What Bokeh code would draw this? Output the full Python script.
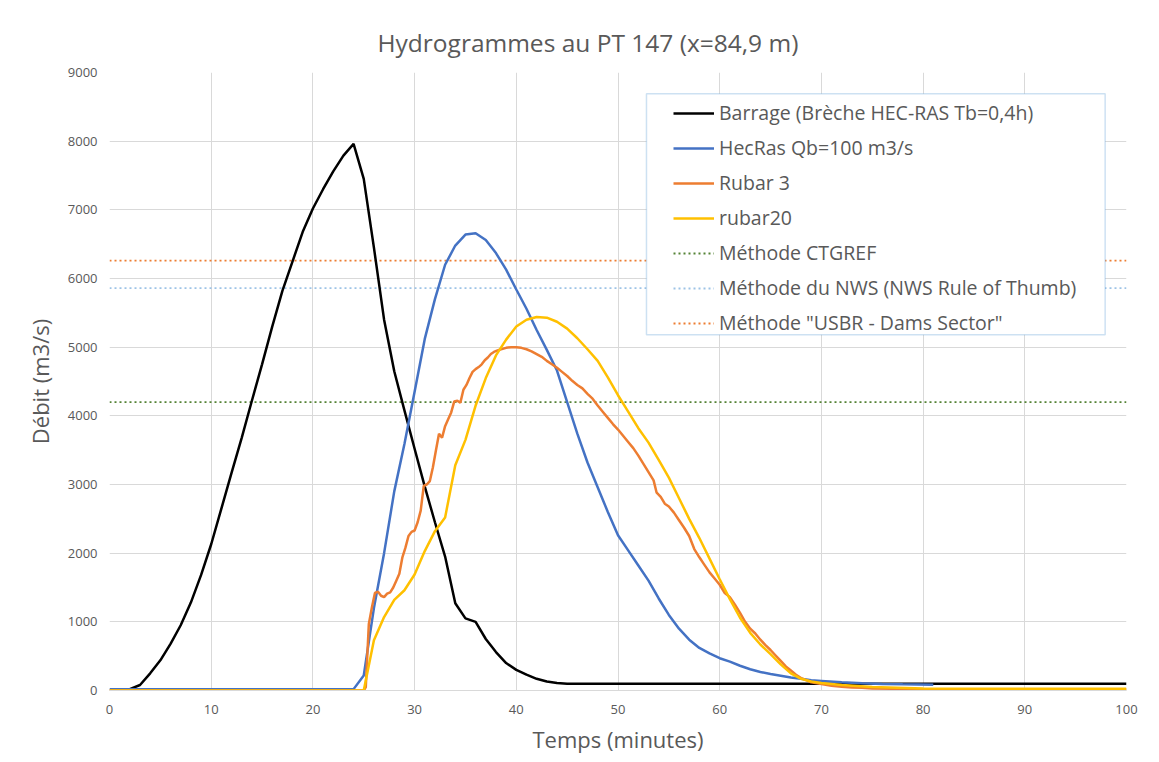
from bokeh.plotting import figure
from bokeh.models import (FixedTicker, Legend, LegendItem, BoxAnnotation, Range1d)
from bokeh.embed import file_html
from bokeh.resources import INLINE

# ---------------- data ----------------
barrage_t = list(range(1, 46)) + [50, 60, 70, 80, 90, 100]
barrage_q = [0, 20, 80, 250, 440, 680, 950, 1280, 1680, 2130,
             2650, 3170, 3680, 4220, 4750, 5300, 5820, 6250, 6680, 7020,
             7300, 7560, 7790, 7960, 7450, 6450, 5400, 4650, 4080, 3520,
             2970, 2450, 1950, 1270, 1050, 1000, 750, 560, 400, 300,
             230, 170, 130, 110, 100, 100, 100, 100, 100, 100, 100]

hecras_t = list(range(0, 71)) + [72, 74, 76, 78, 81]
hecras_q = [20] * 25 + [220, 1200, 2000, 2900, 3590, 4350, 5120, 5700, 6200, 6480,
                        6640, 6660, 6560, 6370, 6130, 5840, 5560, 5250, 4960, 4660,
                        4200, 3740, 3320, 2960, 2600, 2260, 2040, 1820, 1600, 1340,
                        1100, 900, 740, 620, 540, 470, 420, 360, 310, 270,
                        240, 215, 190, 170, 150, 140, 120, 105, 95, 90, 85]

rubar3_t = [0, 5, 10, 15, 20, 25, 25.2, 25.5, 25.8, 26.1, 26.4, 26.7, 27.0, 27.3, 27.6, 27.9,
            28.2, 28.5, 28.8, 29.1, 29.4, 29.7, 30.0, 30.3, 30.6, 30.9, 31.2, 31.5, 31.8,
            32.1, 32.4, 32.7, 33.0, 33.3, 33.6, 33.9, 34.2, 34.5, 34.8, 35.1, 35.4, 35.7,
            36.0, 36.3, 36.6, 36.9, 37.2, 37.5, 37.8, 38.1, 38.5, 39.0, 39.5, 40.0, 40.5,
            41.0, 41.5, 42.0, 42.5, 43.0, 43.5, 44.0, 44.5, 45.0, 45.5, 46.0, 46.5, 47.0,
            47.5, 48.0, 48.5, 49.0, 49.5, 50.0, 50.5, 51.0, 51.5, 52.0, 52.5, 53.0, 53.5,
            53.8, 54.2, 54.6, 55.0, 55.5, 56.0, 56.5, 57.0, 57.5, 58.0, 58.5, 59.0, 59.5,
            60.0, 60.5, 61.0, 61.5, 62.0, 62.5, 63.0, 63.5, 64.0, 64.5, 65.0, 65.5, 66.0,
            66.5, 67.0, 67.5, 68.0, 68.5, 69, 70, 71, 72, 73, 74, 75, 77, 80, 85, 90, 100]
rubar3_q = [0, 0, 0, 0, 0, 0, 50, 970, 1210, 1420, 1440, 1380, 1360, 1410, 1430, 1500,
            1600, 1700, 1940, 2080, 2250, 2310, 2330, 2450, 2620, 2980, 3000, 3050, 3250,
            3500, 3740, 3680, 3850, 3950, 4050, 4210, 4220, 4190, 4380, 4450, 4550, 4640,
            4680, 4710, 4750, 4810, 4850, 4900, 4930, 4950, 4970, 4990, 5000, 5000, 4990,
            4970, 4940, 4900, 4860, 4800, 4750, 4700, 4640, 4580, 4510, 4450, 4400, 4320,
            4250, 4150, 4060, 3970, 3880, 3800, 3710, 3620, 3530, 3420, 3300, 3180, 3060,
            2880, 2820, 2720, 2680, 2590, 2480, 2370, 2250, 2060, 1940, 1830, 1720, 1630,
            1540, 1420, 1360, 1250, 1130, 1000, 900, 830, 740, 660, 590, 510, 430,
            350, 290, 230, 180, 150, 120, 95, 70, 55, 45, 40, 30, 25, 20, 15, 15, 15]

rubar20_t = list(range(0, 71)) + [72, 75, 80, 90, 100]
rubar20_q = [0] * 26 + [730, 1070, 1320, 1460, 1690, 2030, 2320, 2520, 3280, 3650,
                        4150, 4550, 4880, 5110, 5300, 5400, 5440, 5430, 5370, 5270,
                        5130, 4970, 4800, 4560, 4300, 4060, 3820, 3610, 3360, 3100,
                        2800, 2500, 2220, 1920, 1620, 1330, 1060, 840, 670, 530,
                        380, 250, 170, 130, 110, 80, 50, 30, 25, 25]

ref_t = [0, 100]
ctgref_q = 4200
nws_q = 5860
usbr_q = 6260

labels = ["Barrage (Brèche HEC-RAS Tb=0,4h)", "HecRas Qb=100 m3/s", "Rubar 3", "rubar20",
          "Méthode CTGREF", "Méthode du NWS (NWS Rule of Thumb)", "Méthode \"USBR - Dams Sector\""]
x_ticks = list(range(0, 101, 10))
y_ticks = list(range(0, 9001, 1000))

# ---------------- figure ----------------
FONT = "Open Sans"
GREY = "#595959"

p = figure(width=1159, height=762, output_backend="svg", toolbar_location=None,
           x_range=Range1d(0, 100), y_range=Range1d(0, 9000),
           min_border_left=109, min_border_right=33, min_border_top=72, min_border_bottom=72,
           title="Hydrogrammes au PT 147 (x=84,9 m)")
p.title.align = "left"
p.title.offset = 268
p.title.text_font = FONT
p.title.text_font_size = "24.5px"
p.title.text_font_style = "normal"
p.title.text_color = GREY
p.title.standoff = 27
p.outline_line_color = None

p.xaxis.ticker = FixedTicker(ticks=x_ticks)
p.yaxis.ticker = FixedTicker(ticks=y_ticks)
for ax in (p.xaxis[0], p.yaxis[0]):
    ax.major_tick_line_color = None
    ax.minor_tick_line_color = None
    ax.major_label_text_font = FONT
    ax.major_label_text_font_size = "13px"
    ax.major_label_text_color = GREY
    ax.axis_label_text_font = FONT
    ax.axis_label_text_font_size = "22px"
    ax.axis_label_text_font_style = "normal"
    ax.axis_label_text_color = GREY
p.xaxis.axis_line_color = "#D9D9D9"
p.yaxis.axis_line_color = None
p.xaxis.axis_label = "Temps (minutes)"
p.yaxis.axis_label = "Débit (m3/s)"
p.xaxis.major_label_standoff = 8
p.xaxis.axis_label_standoff = 7
p.yaxis.major_label_standoff = 6
p.yaxis.axis_label_standoff = 10

p.xgrid.grid_line_color = "#D9D9D9"
p.ygrid.grid_line_color = "#D9D9D9"
p.xgrid.ticker = FixedTicker(ticks=x_ticks)
p.ygrid.ticker = FixedTicker(ticks=y_ticks)

LW = 2.5
r_ct = p.line(ref_t, [ctgref_q] * 2, line_color="#548235", line_width=1.8, line_dash="2 3")
r_nws = p.line(ref_t, [nws_q] * 2, line_color="#9DC3E6", line_width=1.8, line_dash="2 3")
r_usbr = p.line(ref_t, [usbr_q] * 2, line_color="#ED7D31", line_width=1.8, line_dash="2 3")
r_bar = p.line(barrage_t, barrage_q, line_color="black", line_width=LW)
r_hec = p.line(hecras_t, hecras_q, line_color="#4472C4", line_width=LW)
r_r3 = p.line(rubar3_t, rubar3_q, line_color="#ED7D31", line_width=LW)
r_r20 = p.line(rubar20_t, rubar20_q, line_color="#FFC000", line_width=LW)

# legend box
box = BoxAnnotation(left=52.8, right=97.9, top=8690, bottom=5182,
                    fill_color="white", fill_alpha=1.0,
                    line_color="#5B9BD5", line_width=1.5)
p.add_layout(box)

legend = Legend(items=[LegendItem(label=l, renderers=[r]) for l, r in
                       zip(labels, [r_bar, r_hec, r_r3, r_r20, r_ct, r_nws, r_usbr])],
                location=(564, 350), padding=0, spacing=0, margin=0,
                label_height=35, glyph_height=20, glyph_width=41, label_standoff=5,
                label_text_font=FONT, label_text_font_size="19.5px", label_text_color=GREY,
                border_line_alpha=0, background_fill_alpha=0)
p.add_layout(legend)

open("out.html", "w").write(file_html(p, INLINE))
